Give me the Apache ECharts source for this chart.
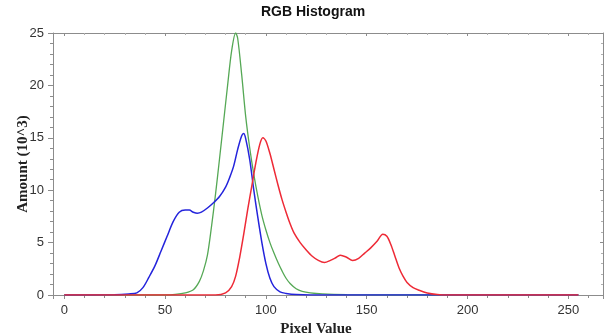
<!DOCTYPE html>
<html>
<head>
<meta charset="utf-8">
<script src="https://cdn.jsdelivr.net/npm/echarts@6/dist/echarts.min.js"></script>
<style>
html, body { margin: 0; padding: 0; background: #fff; }
#chart { width: 611px; height: 336px; }
</style>
</head>
<body>
<div id="chart"></div>
<script>
// RGB 直方图 (pixel value, amount in 10^3)
var xTicks = [0, 50, 100, 150, 200, 250];
var yTicks = [0, 5, 10, 15, 20, 25];

var redData = [[0,0],[75,0],[80,0.2],[83,0.8],[85,1.8],[87,3.6],[89,5.8],[91,8.2],[93,10.4],[95,12.6],[97,14.4],[98.5,15.0],[100,14.7],[102,13.5],[104,12.0],[106,10.5],[108,9.1],[110,7.9],[112,6.8],[114,5.9],[117,5.0],[120,4.3],[123,3.7],[126,3.3],[129,3.1],[132,3.3],[135,3.6],[137,3.8],[140,3.6],[143,3.3],[146,3.5],[149,4.0],[152,4.5],[155,5.1],[158,5.8],[160,5.6],[162,4.8],[164,3.7],[166,2.6],[168,1.8],[170,1.2],[173,0.7],[176,0.45],[180,0.2],[185,0.05],[190,0],[255,0]];

var greenData = [[0,0],[50,0],[55,0.05],[60,0.2],[64,0.5],[67,1.3],[69,2.3],[71,3.8],[73,6.5],[75,9.6],[77,13.0],[79,16.5],[81,20.0],[83,23.3],[85,25.0],[86,24.5],[88,21.0],[90,17.0],[92,14.0],[94,11.5],[96,9.4],[98,7.6],[100,6.2],[102,5.0],[104,4.0],[106,3.1],[108,2.3],[110,1.6],[112,1.1],[115,0.6],[118,0.35],[122,0.2],[128,0.1],[140,0.03],[160,0],[255,0]];

var blueData = [[0,0],[25,0.03],[32,0.1],[36,0.2],[39,0.7],[42,1.7],[45,2.8],[48,4.2],[51,5.6],[54,7.0],[57,7.9],[60,8.1],[62,8.1],[64,7.9],[66,7.8],[68,7.9],[71,8.3],[74,8.8],[77,9.4],[80,10.3],[82,11.2],[84,12.3],[86,13.9],[88,15.2],[89,15.4],[90,14.9],[92,12.9],[94,10.0],[96,7.4],[98,5.0],[100,3.0],[102,1.6],[104,0.8],[107,0.3],[110,0.15],[115,0.05],[130,0],[255,0]];

var axisColor = '#8c8c8c';
var labelStyle = { color: '#333', fontSize: 13, fontFamily: 'Liberation Sans, Arial, sans-serif' };
var nameStyle = { fontFamily: 'Liberation Serif, Times New Roman, serif', fontWeight: 'bold', fontSize: 15, color: '#222' };

function tickFmt(list) {
    return function (v) {
        return list.indexOf(Math.round(v * 1000) / 1000) >= 0 ? String(v) : '';
    };
}

var chart = echarts.init(document.getElementById('chart'));
var option = {
    backgroundColor: '#fff',
    animation: false,
    title: {
        text: 'RGB Histogram',
        left: 313,
        textAlign: 'center',
        top: 5,
        padding: 0,
        textStyle: { fontSize: 14, fontWeight: 'bold', color: '#111', fontFamily: 'Liberation Sans, Arial, sans-serif' }
    },
    grid: { left: 53, right: 8, top: 33, bottom: 41, containLabel: false, outerBoundsMode: 'none' },
    xAxis: [{
        type: 'value',
        min: -5.6,
        max: 267.2,
        splitNumber: 5,
        name: 'Pixel Value',
        nameLocation: 'middle',
        nameGap: 24,
        nameTextStyle: Object.assign({ padding: [0, 24, 0, 0] }, nameStyle),
        axisLine: { onZero: false, lineStyle: { color: axisColor } },
        axisTick: { length: 4, lineStyle: { color: axisColor } },
        minorTick: { show: true, splitNumber: 5, length: 3, lineStyle: { color: axisColor } },
        axisLabel: { showMinLabel: false, showMaxLabel: false, margin: 9, formatter: tickFmt(xTicks), ...labelStyle },
        splitLine: { show: false }
    }, {
        type: 'value',
        position: 'top',
        min: -5.6,
        max: 267.2,
        splitNumber: 5,
        axisLine: { show: true, onZero: false, lineStyle: { color: axisColor } },
        axisTick: { inside: true, length: 3, lineStyle: { color: axisColor } },
        minorTick: { show: true, splitNumber: 5, length: 2, lineStyle: { color: '#b0b0b0' } },
        axisLabel: { show: false },
        splitLine: { show: false }
    }],
    yAxis: [{
        type: 'value',
        min: 0,
        max: 25,
        interval: 5,
        name: 'Amount (10^3)',
        nameLocation: 'middle',
        nameGap: 22,
        nameMoveOverlap: false,
        nameTextStyle: nameStyle,
        axisLine: { show: true, onZero: false, lineStyle: { color: axisColor } },
        axisTick: { length: 5, lineStyle: { color: axisColor } },
        minorTick: { show: true, splitNumber: 5, length: 3, lineStyle: { color: axisColor } },
        axisLabel: { margin: 9, formatter: tickFmt(yTicks), ...labelStyle },
        splitLine: { show: false }
    }, {
        type: 'value',
        position: 'right',
        min: 0,
        max: 25,
        interval: 5,
        axisLine: { show: true, onZero: false, lineStyle: { color: axisColor } },
        axisTick: { inside: true, length: 3, lineStyle: { color: axisColor } },
        minorTick: { show: true, splitNumber: 5, length: 2, lineStyle: { color: '#b0b0b0' } },
        axisLabel: { show: false },
        splitLine: { show: false }
    }],
    series: [{
        name: 'G',
        type: 'line',
        data: greenData,
        showSymbol: false,
        smooth: 0.3,
        lineStyle: { color: '#55a855', width: 1.3 },
        z: 2
    }, {
        name: 'B',
        type: 'line',
        data: blueData,
        showSymbol: false,
        smooth: 0.3,
        lineStyle: { color: '#2424dc', width: 1.5 },
        z: 3
    }, {
        name: 'R',
        type: 'line',
        data: redData,
        showSymbol: false,
        smooth: 0.3,
        lineStyle: { color: '#ee2a36', width: 1.5 },
        z: 4
    }]
};
chart.setOption(option);
</script>
</body>
</html>
